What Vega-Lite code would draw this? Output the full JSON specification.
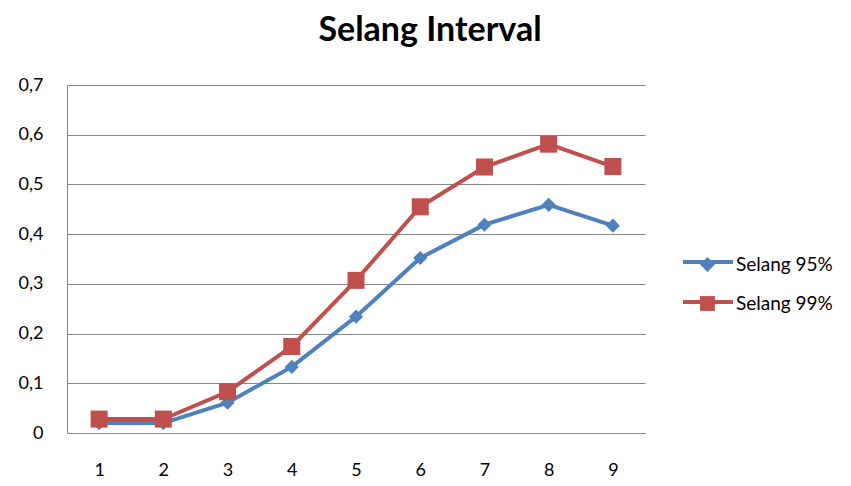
{
  "$schema": "https://vega.github.io/schema/vega-lite/v6.json",
  "width": 578,
  "height": 348,
  "autosize": {"type": "none"},
  "padding": {"left": 67, "top": 85, "right": 206, "bottom": 53},
  "background": "white",
  "title": {"text": "Selang Interval", "fontSize": 34, "font": "Lato", "fontWeight": "bold", "color": "#000", "anchor": "middle", "frame": "group", "dx": 74, "offset": 1, "baseline": "alphabetic"},
  "config": {"view": {"stroke": null}, "font": "Lato"},
  "data": {"values": [
    {"x": "1", "series": "Selang 95%", "value": 0.02},
    {"x": "2", "series": "Selang 95%", "value": 0.02},
    {"x": "3", "series": "Selang 95%", "value": 0.061},
    {"x": "4", "series": "Selang 95%", "value": 0.133},
    {"x": "5", "series": "Selang 95%", "value": 0.234},
    {"x": "6", "series": "Selang 95%", "value": 0.352},
    {"x": "7", "series": "Selang 95%", "value": 0.419},
    {"x": "8", "series": "Selang 95%", "value": 0.459},
    {"x": "9", "series": "Selang 95%", "value": 0.417},
    {"x": "1", "series": "Selang 99%", "value": 0.028},
    {"x": "2", "series": "Selang 99%", "value": 0.028},
    {"x": "3", "series": "Selang 99%", "value": 0.083},
    {"x": "4", "series": "Selang 99%", "value": 0.174},
    {"x": "5", "series": "Selang 99%", "value": 0.307},
    {"x": "6", "series": "Selang 99%", "value": 0.455},
    {"x": "7", "series": "Selang 99%", "value": 0.535},
    {"x": "8", "series": "Selang 99%", "value": 0.581},
    {"x": "9", "series": "Selang 99%", "value": 0.536}
  ]},
  "encoding": {
    "x": {"field": "x", "type": "ordinal", "scale": {"type": "point", "padding": 0.5},
      "axis": {"title": null, "labelAngle": 0, "ticks": false, "domainColor": "#888888", "labelPadding": 28, "labelFontSize": 18, "labelColor": "#000", "grid": false}},
    "y": {"field": "value", "type": "quantitative", "scale": {"domain": [0, 0.7], "nice": false},
      "axis": {"title": null, "values": [0, 0.1, 0.2, 0.3, 0.4, 0.5, 0.6, 0.7], "labelExpr": "replace(format(datum.value, '.1~f'), '.', ',')", "ticks": false, "domainColor": "#888888", "gridColor": "#888888", "gridOpacity": 1, "labelPadding": 24, "labelFontSize": 18, "labelColor": "#000"}}
  },
  "layer": [
    {"mark": {"type": "line", "strokeWidth": 4},
      "encoding": {
        "color": {"field": "series", "type": "nominal", "scale": {"domain": ["Selang 95%", "Selang 99%"], "range": ["#4F81BD", "#C0504D"]},
          "legend": {"orient": "none", "legendX": 614, "legendY": 150, "title": null, "symbolType": "stroke", "symbolSize": 2500, "symbolStrokeWidth": 4, "labelOffset": 4, "rowPadding": 3, "labelFontSize": 19, "labelExpr": "''"}}
      }},
    {"mark": {"type": "point", "filled": true, "opacity": 1},
      "encoding": {
        "color": {"field": "series", "type": "nominal", "scale": {"domain": ["Selang 95%", "Selang 99%"], "range": ["#4F81BD", "#C0504D"]},
          "legend": {"orient": "none", "legendX": 631, "legendY": 170, "title": null, "symbolSize": 220, "symbolOpacity": 1, "labelOffset": 19, "rowPadding": 18, "labelFontSize": 19, "labelColor": "#000"}},
        "shape": {"field": "series", "type": "nominal", "scale": {"domain": ["Selang 95%", "Selang 99%"], "range": ["diamond", "square"]}},
        "size": {"field": "series", "type": "ordinal", "scale": {"domain": ["Selang 95%", "Selang 99%"], "range": [200, 290]}, "legend": null}
      }}
  ],
  "resolve": {"legend": {"color": "independent", "shape": "independent"}}
}
